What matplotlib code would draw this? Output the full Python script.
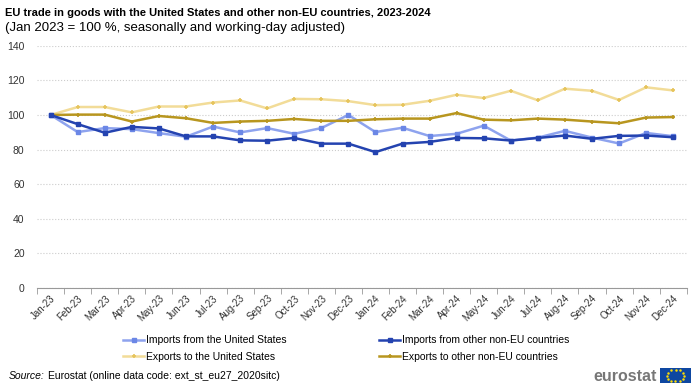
import numpy as np
import matplotlib
matplotlib.use('Agg')
import matplotlib.pyplot as plt

plt.rcParams['font.family'] = ['Liberation Sans', 'DejaVu Sans']

months = ['Jan-23', 'Feb-23', 'Mar-23', 'Apr-23', 'May-23', 'Jun-23', 'Jul-23', 'Aug-23',
          'Sep-23', 'Oct-23', 'Nov-23', 'Dec-23', 'Jan-24', 'Feb-24', 'Mar-24', 'Apr-24',
          'May-24', 'Jun-24', 'Jul-24', 'Aug-24', 'Sep-24', 'Oct-24', 'Nov-24', 'Dec-24']

imports_us = [100, 90.1, 92.4, 91.8, 89.5, 87.4, 93.3, 89.9, 92.4, 89.1, 92.4, 100.0,
              90.1, 92.6, 87.8, 89.1, 93.8, 85.2, 86.9, 90.8, 86.9, 83.5, 89.6, 87.7]
imports_other = [100, 94.7, 89.7, 93.1, 92.2, 87.6, 87.6, 85.3, 85.1, 86.7, 83.4, 83.4,
                 78.5, 83.4, 84.4, 86.7, 86.5, 85.2, 86.7, 88.1, 86.2, 87.9, 88.1, 87.1]
exports_us = [100, 104.6, 104.6, 101.5, 104.9, 104.9, 107.2, 108.4, 103.8, 109.3, 109.1, 108.0,
              105.7, 105.9, 108.2, 111.7, 109.8, 114.0, 108.5, 115.2, 114.0, 108.7, 116.0, 114.2]
exports_other = [100, 100.2, 100.2, 96.2, 99.4, 98.1, 95.4, 96.2, 96.6, 97.7, 96.6, 96.6,
                 97.5, 97.9, 97.9, 101.1, 97.3, 96.9, 97.9, 97.3, 96.2, 95.2, 98.5, 98.8]

fig = plt.figure(figsize=(7, 3.92), dpi=100)
ax = fig.add_axes([0.053, 0.266, 0.928, 0.617])

x = np.arange(len(months))
l1, = ax.plot(x, imports_us, color='#8ea3ee', marker='s', ms=3.2, mfc='#6b87e6', mec='#6b87e6',
              lw=1.8, label='Imports from the United States', zorder=3)
l2, = ax.plot(x, imports_other, color='#2443b0', marker='s', ms=3.2, lw=1.8,
              label='Imports from other non-EU countries', zorder=4)
l3, = ax.plot(x, exports_us, color='#f2dc98', marker='+', ms=3.5, mew=1.2, mec='#e6c45c',
              lw=1.8, label='Exports to the United States', zorder=2)
l4, = ax.plot(x, exports_other, color='#b8961f', marker='+', ms=3.5, mew=1.2,
              lw=1.8, label='Exports to other non-EU countries', zorder=3)

ax.set_xlim(-0.5, len(months) - 0.5)
ax.set_ylim(0, 140)
ax.set_yticks(np.arange(0, 141, 20))
ax.tick_params(axis='y', length=0, pad=9, labelsize=7.5, colors='#333333')
ax.set_xticks(x)
ax.set_xticklabels(months, rotation=45, ha='right', rotation_mode='anchor', fontsize=7, color='#333333')
ax.set_xticks(np.arange(-0.5, len(months), 1), minor=True)
ax.tick_params(axis='x', which='major', length=0, pad=4)
ax.tick_params(axis='x', which='minor', length=4, color='#999999', direction='out')
ax.yaxis.grid(True, linestyle=':', color='#cccccc', lw=0.8)
ax.set_axisbelow(True)
for s in ['left', 'right', 'top']:
    ax.spines[s].set_visible(False)
ax.spines['bottom'].set_color('#999999')

# legend filled column-wise: imports on the first row, exports on the second
fig.legend([l1, l3, l2, l4], [l.get_label() for l in (l1, l3, l2, l4)],
           loc='upper left', bbox_to_anchor=(0.17, 0.155), ncol=2, frameon=False,
           fontsize=7.5, handlelength=2.0, handletextpad=0.2, columnspacing=8.9,
           labelspacing=0.6, borderaxespad=0)

fig.text(0.007, 0.966, 'EU trade in goods with the United States and other non-EU countries, 2023-2024',
         fontsize=8.0, fontweight='bold', va='center')
fig.text(0.007, 0.928, '(Jan 2023 = 100 %, seasonally and working-day adjusted)',
         fontsize=9.5, va='center')
fig.text(0.013, 0.04, 'Source:', fontsize=7.5, style='italic', va='center')
fig.text(0.068, 0.04, 'Eurostat (online data code: ext_st_eu27_2020sitc)', fontsize=7.5, va='center')

fig.text(0.938, 0.04, 'eurostat', fontsize=11.5, fontweight='bold', color='#777777',
         ha='right', va='center')
flag = fig.add_axes([0.943, 0.022, 0.044, 0.04])
flag.set_facecolor('#0e47a1')
ang = np.linspace(0, 2 * np.pi, 12, endpoint=False)
flag.scatter(0.5 + 0.28 * np.cos(ang), 0.5 + 0.38 * np.sin(ang), s=0.6, color='#ffdd00')
flag.set_xlim(0, 1)
flag.set_ylim(0, 1)
flag.set_xticks([])
flag.set_yticks([])
for s in flag.spines.values():
    s.set_visible(False)

fig.savefig('out.png', dpi=100)
